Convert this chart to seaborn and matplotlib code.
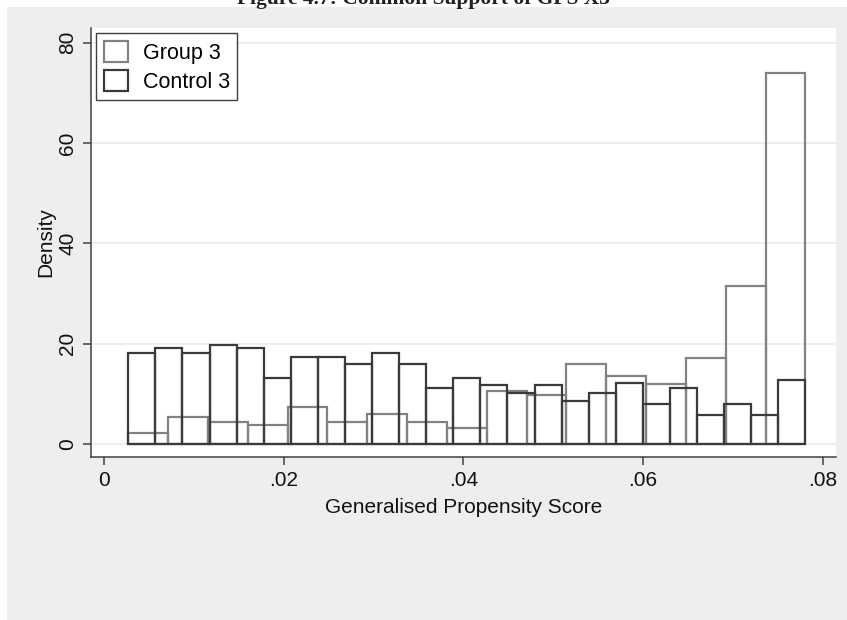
import numpy as np
import pandas as pd
import matplotlib
matplotlib.use("Agg")
import matplotlib.pyplot as plt
from matplotlib.patches import Patch, Rectangle
import seaborn as sns

# densidades (histogramas sobrepostos, estilo Stata)
score_min, score_max = 0.0027, 0.0781
group_density = [2.26, 5.3, 4.45, 3.78, 7.43, 4.45, 5.98, 4.45, 3.12,
                 10.56, 9.76, 15.87, 13.55, 12.0, 17.2, 31.5, 74.0]
control_density = [18.07, 19.06, 18.07, 19.66, 19.06, 13.2, 17.4, 17.4, 15.87,
                   18.07, 15.87, 11.1, 13.2, 11.7, 10.1, 11.7, 8.5, 10.1,
                   12.2, 7.9, 11.1, 5.78, 7.9, 5.78, 12.75]
labels = ["Group 3", "Control 3"]
x_ticks = [0, 0.02, 0.04, 0.06, 0.08]
x_ticklabels = ["0", ".02", ".04", ".06", ".08"]
y_ticks = [0, 20, 40, 60, 80]
titulo = "Figure 4.7: Common Support of GPS X3"

plt.rcParams["font.family"] = ["Liberation Sans", "DejaVu Sans"]

W, H = 847, 620
fig = plt.figure(figsize=(W / 100, H / 100), dpi=100, facecolor="white")
fig.add_artist(Rectangle((7 / W, 0), 1, 1 - 7 / H, transform=fig.transFigure,
                         facecolor="#eeeeee", edgecolor="none", zorder=-10))
# título da página, cortado no topo como no original
fig.text(0.5, 1 - 4 / H, titulo, ha="center", va="baseline",
         family="Liberation Serif", fontweight="bold", fontsize=15.5, color="#222222")

ax = fig.add_axes([91 / W, 1 - 457 / H, (836 - 91) / W, (457 - 28) / H])
ax.set_facecolor("white")

c_group, c_control = "#828282", "#3a3a3a"

for dens, cor in [(group_density, c_group), (control_density, c_control)]:
    n = len(dens)
    largura = (score_max - score_min) / n
    df = pd.DataFrame({"gps": score_min + largura * (np.arange(n) + 0.5),
                       "dens": dens})
    sns.histplot(data=df, x="gps", weights="dens", bins=n,
                 binrange=(score_min, score_max), stat="count",
                 element="bars", fill=False, color=cor, linewidth=1.6, ax=ax)

ax.set_xlim(-0.00145, 0.0815)
ax.set_ylim(-2.6, 82.9)
ax.set_xticks(x_ticks)
ax.set_xticklabels(x_ticklabels, fontsize=15)
ax.set_yticks(y_ticks)
ax.set_yticklabels([str(v) for v in y_ticks], fontsize=15, rotation=90, va="center")
ax.tick_params(axis="both", direction="out", length=6, width=1.1, color="#404040",
               labelcolor="#111111", pad=4)
ax.set_xlabel("Generalised Propensity Score", fontsize=15, labelpad=6, color="#111111")
ax.set_ylabel("Density", fontsize=15, labelpad=2, color="#111111")

ax.grid(axis="y", color="#ebebeb", lw=1.2)
ax.set_axisbelow(True)
for s in ["top", "right"]:
    ax.spines[s].set_visible(False)
for s in ["left", "bottom"]:
    ax.spines[s].set_color("#404040")
    ax.spines[s].set_linewidth(1.1)

handles = [Patch(facecolor="white", edgecolor=c_group, lw=1.6, label=labels[0]),
           Patch(facecolor="white", edgecolor=c_control, lw=1.6, label=labels[1])]
leg = ax.legend(handles=handles, loc="upper left", fontsize=15.5, frameon=True,
                fancybox=False, edgecolor="#404040", framealpha=1,
                handlelength=1.1, handleheight=1.1, handletextpad=0.7,
                borderpad=0.35, labelspacing=0.3, borderaxespad=0.25)
leg.get_frame().set_linewidth(1.0)

plt.savefig("out.png", dpi=100)
plt.close()
